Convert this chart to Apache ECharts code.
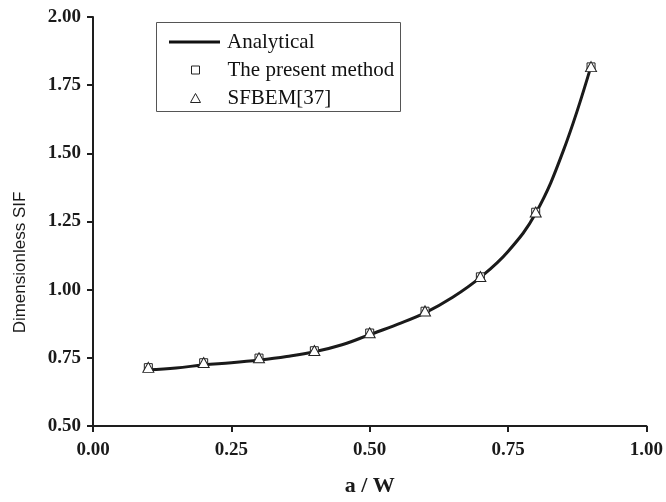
<!DOCTYPE html>
<html>
<head>
<meta charset="utf-8">
<script src="https://cdn.jsdelivr.net/npm/echarts@6/dist/echarts.min.js"></script>
<style>html,body{margin:0;padding:0;background:#fff}#c{width:666px;height:502px}</style>
</head>
<body>
<div id="c"></div>
<script>
const xTicks = [0, 0.25, 0.5, 0.75, 1.0];
const yTicks = [0.5, 0.75, 1.0, 1.25, 1.5, 1.75, 2.0];
const analyticalX = [0.10, 0.15, 0.20, 0.25, 0.30, 0.35, 0.40, 0.45, 0.50, 0.55, 0.60, 0.65, 0.70, 0.75, 0.80, 0.85, 0.90];
const analyticalY = [0.706, 0.713, 0.724, 0.732, 0.742, 0.755, 0.772, 0.798, 0.835, 0.873, 0.915, 0.972, 1.045, 1.14, 1.28, 1.51, 1.82];
const pointX = [0.1, 0.2, 0.3, 0.4, 0.5, 0.6, 0.7, 0.8, 0.9];
const presentY = [0.714, 0.732, 0.749, 0.776, 0.841, 0.921, 1.047, 1.284, 1.817];
const sfbemY = [0.715, 0.733, 0.750, 0.777, 0.842, 0.922, 1.048, 1.285, 1.818];
const names = ['Analytical', 'The present method', 'SFBEM[37]'];

const chart = echarts.init(document.getElementById('c'), null, {renderer: 'canvas'});
const axisColor = '#1e1e1e';
const serif = '"Liberation Serif", "Times New Roman", serif';
const legendText = {fontFamily: serif, fontSize: 21, color: '#111', lineHeight: 24};
chart.setOption({
  animation: false,
  backgroundColor: '#fff',
  grid: {left: 93, right: 18, top: 17, bottom: 73, containLabel: false},
  graphic: [{
    type: 'rect', left: 156, top: 22, z: 100,
    shape: {x: 0, y: 0, width: 244, height: 89},
    style: {fill: 'rgba(0,0,0,0)', stroke: '#555', lineWidth: 1}
  }],
  legend: [
    {
      left: 169, top: 30, padding: 0, itemWidth: 51, itemHeight: 3,
      textStyle: Object.assign({}, legendText, {padding: [0, 0, 0, 2]}),
      data: [{name: names[0], icon: 'rect', itemStyle: {color: '#111', borderWidth: 0}}]
    },
    {
      left: 191, top: 58, padding: 0, itemWidth: 8, itemHeight: 8,
      textStyle: Object.assign({}, legendText, {padding: [0, 0, 0, 23]}),
      data: [{name: names[1], icon: 'rect', itemStyle: {color: '#fff', borderColor: '#222', borderWidth: 1}}]
    },
    {
      left: 190, top: 86, padding: 0, itemWidth: 10, itemHeight: 9,
      textStyle: Object.assign({}, legendText, {padding: [0, 0, 0, 22]}),
      data: [{name: names[2], icon: 'triangle', itemStyle: {color: '#fff', borderColor: '#222', borderWidth: 1}}]
    }
  ],
  xAxis: {
    type: 'value', min: 0, max: 1, interval: 0.25,
    name: 'a / W', nameLocation: 'middle', nameGap: 49,
    nameTextStyle: {fontFamily: serif, fontWeight: 'bold', fontSize: 22, color: '#1a1a1a'},
    axisLine: {show: true, onZero: false, lineStyle: {color: axisColor, width: 2}},
    axisTick: {show: true, inside: false, length: 6, lineStyle: {color: axisColor, width: 2}},
    axisLabel: {margin: 15, fontFamily: serif, fontWeight: 'bold', fontSize: 19, color: '#1a1a1a',
      formatter: v => v.toFixed(2)},
    splitLine: {show: false}
  },
  yAxis: {
    type: 'value', min: 0.5, max: 2.0, interval: 0.25,
    name: 'Dimensionless SIF', nameLocation: 'middle', nameGap: 64,
    nameTextStyle: {fontFamily: '"Liberation Sans", Arial, sans-serif', fontSize: 17, color: '#1a1a1a', padding: [0, 82, 0, 0]},
    axisLine: {show: true, onZero: false, lineStyle: {color: axisColor, width: 2}},
    axisTick: {show: true, inside: false, length: 6, lineStyle: {color: axisColor, width: 2}},
    axisLabel: {margin: 12, fontFamily: serif, fontWeight: 'bold', fontSize: 19, color: '#1a1a1a',
      formatter: v => v.toFixed(2)},
    splitLine: {show: false}
  },
  series: [
    {
      name: names[0], type: 'line', smooth: 0.4, symbol: 'none',
      lineStyle: {color: '#1a1a1a', width: 3},
      itemStyle: {color: '#1a1a1a'},
      data: analyticalX.map((x, i) => [x, analyticalY[i]]),
      z: 2
    },
    {
      name: names[1], type: 'scatter', symbol: 'rect', symbolSize: 8,
      itemStyle: {color: '#fff', borderColor: '#222', borderWidth: 1, opacity: 1},
      data: pointX.map((x, i) => [x, presentY[i]]),
      z: 3
    },
    {
      name: names[2], type: 'scatter', symbol: 'triangle', symbolSize: [11, 10],
      itemStyle: {color: '#fff', borderColor: '#222', borderWidth: 1, opacity: 1},
      data: pointX.map((x, i) => [x, sfbemY[i]]),
      z: 4
    }
  ]
});
</script>
</body>
</html>
